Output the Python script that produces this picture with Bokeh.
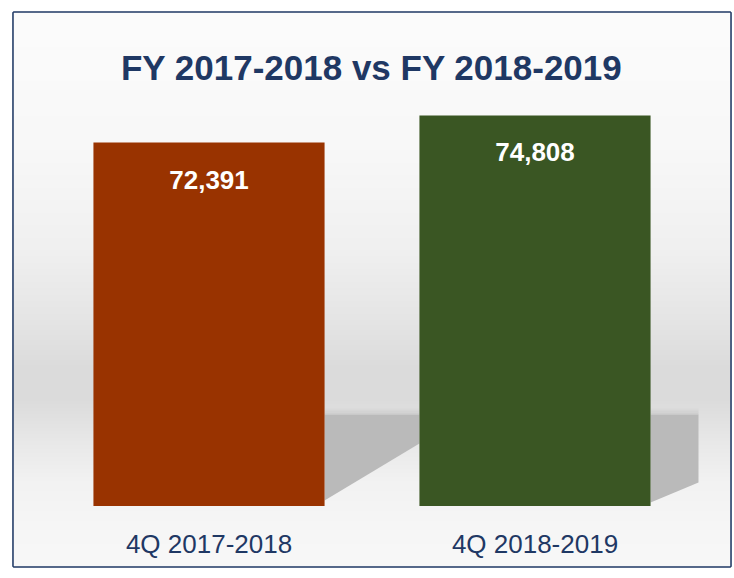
import numpy as np
from bokeh.plotting import figure
from bokeh.models import ColumnDataSource, Range1d, Label
from bokeh.core.properties import value
from bokeh.embed import file_html
from bokeh.resources import INLINE

# ---- data ----
title_text = "FY 2017-2018 vs FY 2018-2019"
categories = ["4Q 2017-2018", "4Q 2018-2019"]
values = [72391, 74808]
value_labels = ["72,391", "74,808"]
bar_colors = ["#993300", "#3A5623"]
axis_base = 40000
# labels of the chart underneath, peeking out below the frame
under_labels = ["3Q 2017-2018", "3Q 2018-2019"]

# ---- style ----
NAVY = "#1F3864"
FONT_NAME = "Liberation Sans"
FONT = value(FONT_NAME)
W, H = 734, 578
X0, X1 = -0.5997, 1.5997
Y0, Y1 = 34607, 83988
BAR_W = 0.709

xs = list(range(len(categories)))

p = figure(width=W, height=H, output_backend="svg", toolbar_location=None,
           x_range=Range1d(X0, X1), y_range=Range1d(Y0, Y1),
           x_axis_type=None, y_axis_type=None,
           min_border_left=13, min_border_right=4,
           min_border_top=12, min_border_bottom=12)
p.grid.visible = False
p.outline_line_color = NAVY
p.outline_line_width = 2.6
p.border_fill_color = "white"
p.background_fill_color = "white"

# background vertical gradient (styling only)
n_rows = 554
page_y = 566 - (np.arange(n_rows) + 0.5)  # row 0 = bottom
stop_y = [12, 150, 250, 320, 370, 400, 440, 480, 520, 566]
stop_g = [252, 248, 240, 229, 219, 220, 232, 242, 246, 248]
g = np.interp(page_y, stop_y, stop_g).astype(np.uint8)
img = np.zeros((n_rows, 1), dtype=np.uint32)
view = img.view(dtype=np.uint8).reshape((n_rows, 1, 4))
view[:, 0, 0] = g
view[:, 0, 1] = g
view[:, 0, 2] = g
view[:, 0, 3] = 255
p.image_rgba(image=[img], x=X0, y=Y0, dw=X1 - X0, dh=Y1 - Y0)

# floor shadows behind bars (decoration derived from bar geometry)
shadow_top = axis_base + 8150
shadow_dx = [1 - BAR_W, 0.147]
shadow_drop = [(490, 5571), (312, 2095)]
sh_xs, sh_ys = [], []
for i, x in enumerate(xs):
    r = x + BAR_W / 2
    sh_xs.append([r, r + shadow_dx[i], r + shadow_dx[i], r])
    sh_ys.append([shadow_top, shadow_top, axis_base + shadow_drop[i][1], axis_base + shadow_drop[i][0]])
p.patches(sh_xs, sh_ys, fill_color="#BABABA", line_color=None)
# soften top edge
for k, a in enumerate([0.45, 0.3, 0.15]):
    band_xs, band_ys = [], []
    for i, x in enumerate(xs):
        r = x + BAR_W / 2
        band_xs.append([r, r + shadow_dx[i], r + shadow_dx[i], r])
        band_ys.append([shadow_top + 180 * (k + 1), shadow_top + 180 * (k + 1),
                        shadow_top + 180 * k, shadow_top + 180 * k])
    p.patches(band_xs, band_ys, fill_color="#BABABA", fill_alpha=a, line_color=None)

# bars
src = ColumnDataSource(dict(x=xs, top=values, color=bar_colors,
                            label=value_labels, cat=categories,
                            base=[axis_base] * len(xs)))
p.vbar(x="x", top="top", bottom=axis_base, width=BAR_W, fill_color="color",
       line_color=None, source=src)

# value labels
p.text(x="x", y="top", text="label", source=src, text_align="center",
       text_baseline="alphabetic", y_offset=37, text_font=FONT,
       text_font_style="bold", text_font_size="26px", text_color="white")

# category labels
p.text(x="x", y="base", text="cat", source=src, text_align="center",
       text_baseline="alphabetic", y_offset=38, text_font=FONT,
       text_font_size="26px", text_color=NAVY)

# title
p.text(x=[float(np.mean(xs))], y=[Y1], text=[title_text], text_align="center",
       text_baseline="alphabetic", y_offset=55, text_font=FONT,
       text_font_style="bold", text_font_size="35px", text_color=NAVY)

# labels of the underlying chart, in the strip below the frame
under_shift = [-2, -72]
for i, x in enumerate(xs):
    p.add_layout(Label(x=x, y=Y0, x_offset=under_shift[i], y_offset=-6,
                       text=under_labels[i], text_align="center",
                       text_baseline="middle", text_font=FONT_NAME,
                       text_font_size="10px", text_color=NAVY))

open("out.html", "w").write(file_html(p, INLINE))
